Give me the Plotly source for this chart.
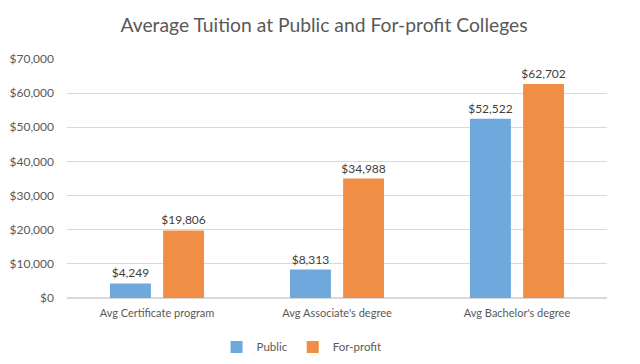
import plotly.graph_objects as go

categories = ["Avg Certificate program", "Avg Associate's degree", "Avg Bachelor's degree"]
public = [4249, 8313, 52522]
forprofit = [19806, 34988, 62702]
tick_vals = [0, 10000, 20000, 30000, 40000, 50000, 60000, 70000]
tick_text = ["$0", "$10,000", "$20,000", "$30,000", "$40,000", "$50,000", "$60,000", "$70,000"]

FONT = "Lato, Open Sans, sans-serif"
TXT = "#595959"

fig = go.Figure()
fig.add_trace(go.Bar(name="Public", x=categories, y=public, marker_color="#6FA8DC",
                     marker_line=dict(width=8, color="rgba(0,0,0,0)"),
                     text=[f"${v:,}" for v in public], textposition="outside", constraintext="none",
                     textfont=dict(size=12, color="#404040", family=FONT), cliponaxis=False))
fig.add_trace(go.Bar(name="For-profit", x=categories, y=forprofit, marker_color="#F08E45",
                     marker_line=dict(width=8, color="rgba(0,0,0,0)"),
                     text=[f"${v:,}" for v in forprofit], textposition="outside", constraintext="none",
                     textfont=dict(size=12, color="#404040", family=FONT), cliponaxis=False))

fig.update_layout(
    width=632, height=356,
    margin=dict(l=59, r=33, t=51, b=66, autoexpand=False),
    paper_bgcolor="white", plot_bgcolor="white",
    barmode="group", bargap=0.41, bargroupgap=0.23,
    title=dict(text="Average Tuition at Public and For-profit Colleges", x=0.5, xanchor="center",
               y=0.952, yanchor="middle", font=dict(size=19.3, color=TXT, family=FONT)),
    font=dict(family=FONT, color=TXT, size=12),
    legend=dict(orientation="h", x=0.277, xanchor="left", y=-0.205, yanchor="middle",
                font=dict(size=11.5, color=TXT), itemwidth=30, traceorder="normal"),
    showlegend=True,
)
fig.update_yaxes(range=[0, 70000], tickvals=tick_vals, ticktext=tick_text, showgrid=True,
                 gridcolor="#D9D9D9", gridwidth=1, zeroline=True, zerolinecolor="#D9D9D9",
                 tickfont=dict(size=12, color=TXT), ticklabelstandoff=12, automargin=False)
fig.update_xaxes(showline=False, tickfont=dict(size=11, color=TXT), ticklabelstandoff=7,
                 automargin=False)

fig.write_html("out.html")
